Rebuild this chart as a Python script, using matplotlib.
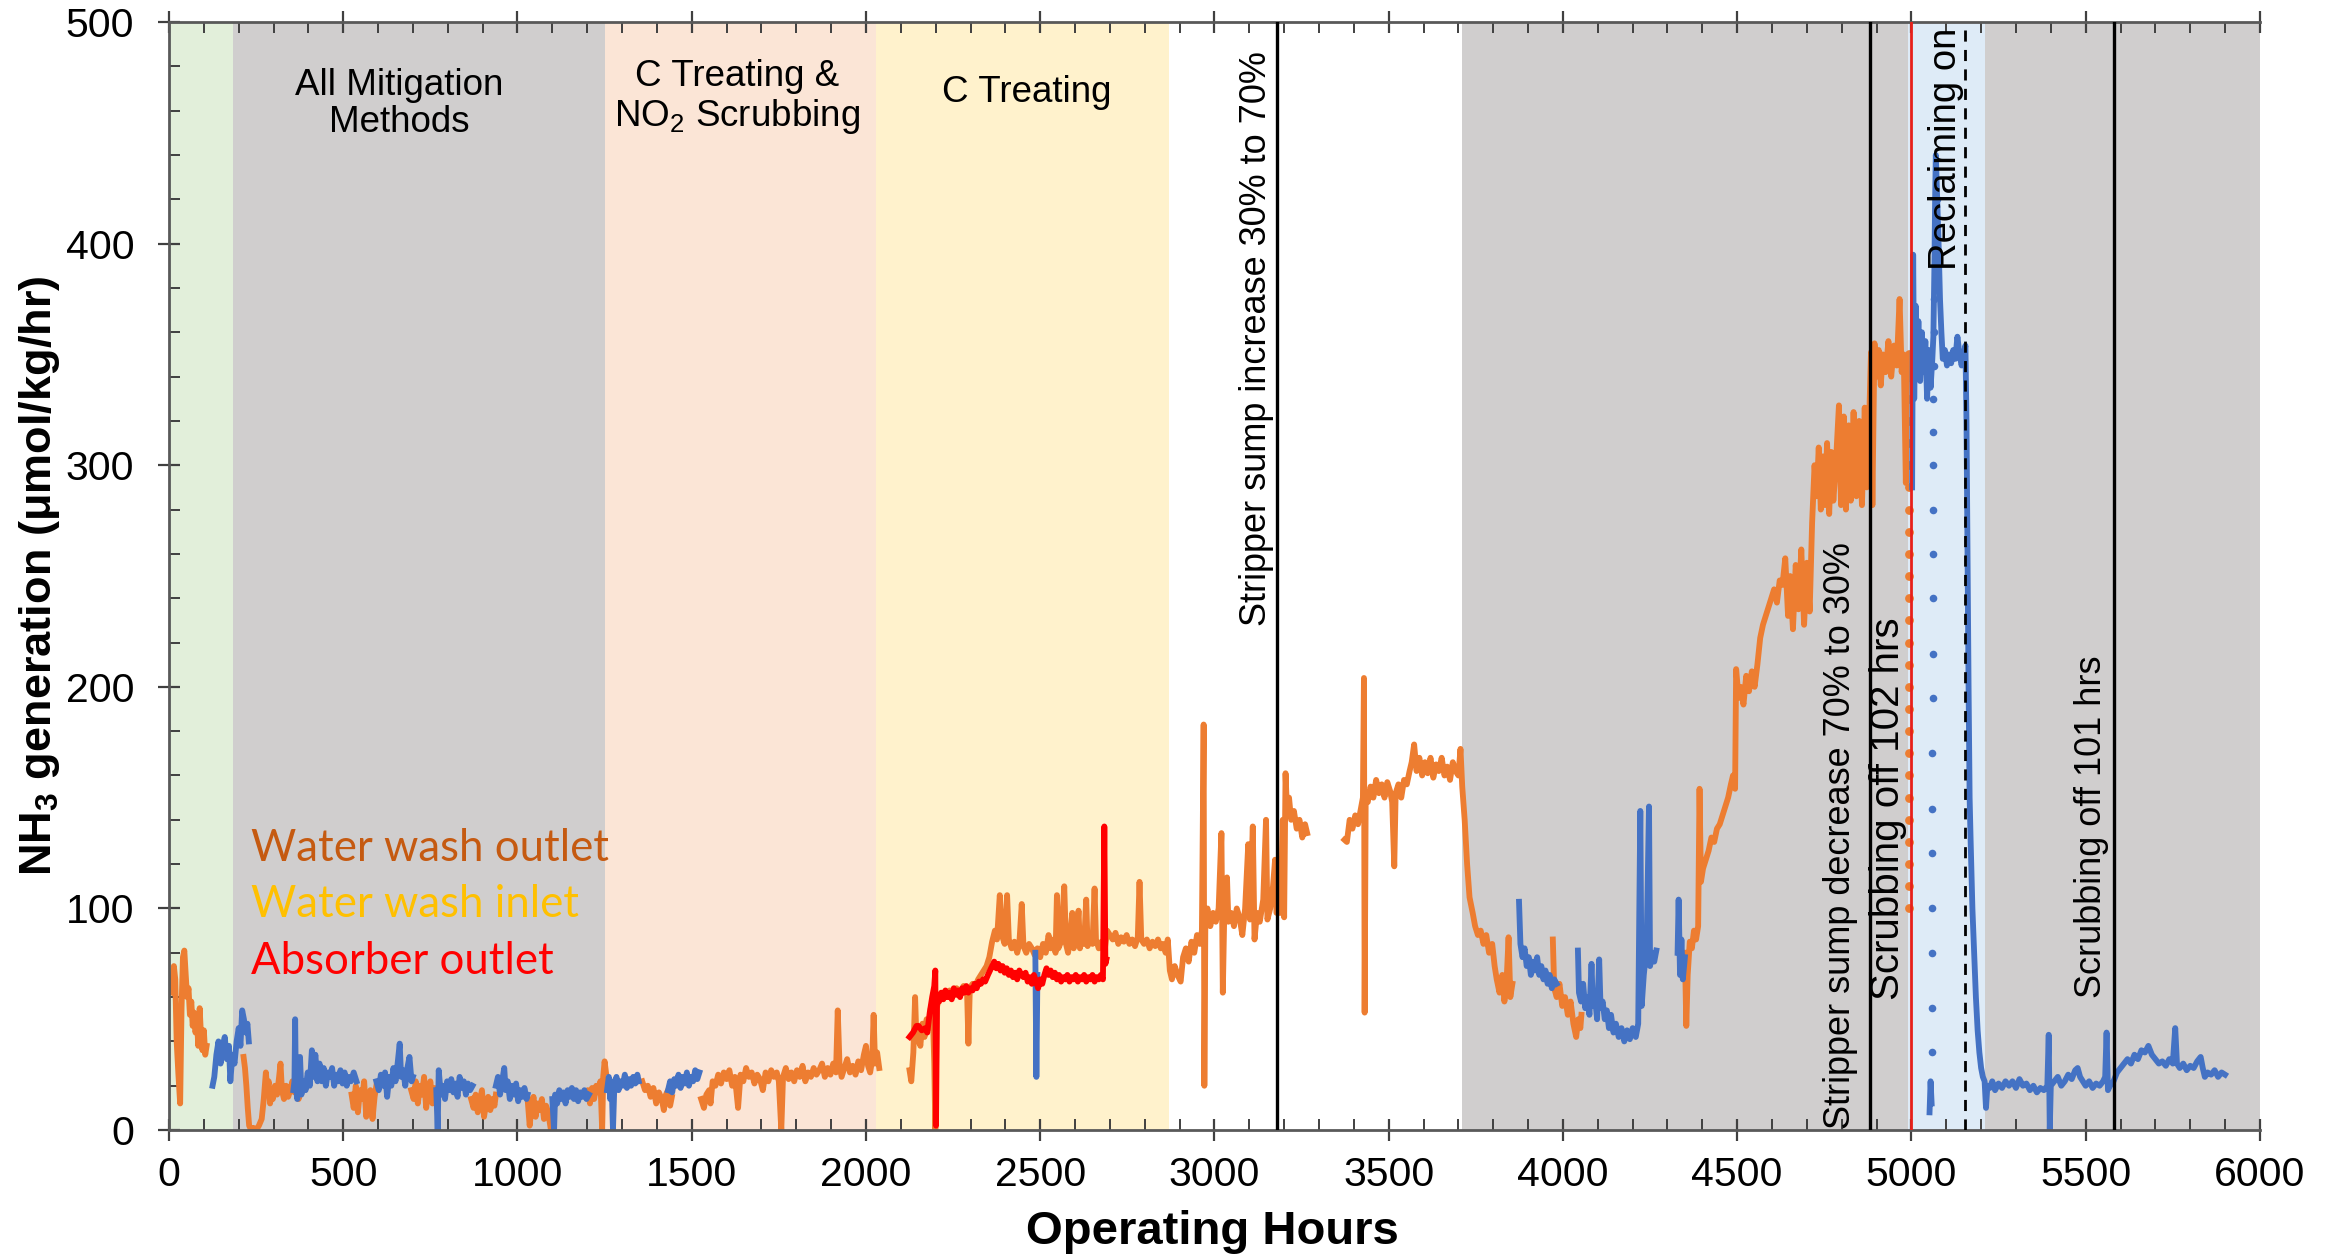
import numpy as np
import matplotlib
matplotlib.use('Agg')
import matplotlib.pyplot as plt
from matplotlib.ticker import MultipleLocator

# ---------------- phases (background bands) ----------------
phase_start = [0, 185, 1250, 2030, 2870, 3710, 4990, 5210]
phase_end = [185, 1250, 2030, 2870, 3710, 4990, 5210, 6000]
phase_color = ['#e2efda', '#d0cece', '#fbe5d6', '#fff2cc', '#ffffff', '#d0cece', '#deebf7', '#d0cece']

phase_labels = ['All Mitigation\nMethods', 'C Treating &\nNO$_2$ Scrubbing', 'C Treating']
phase_label_x = [660, 1630, 2460]
phase_label_y = [463, 466, 468]

# ---------------- events (vertical lines) ----------------
event_hours = [3180, 4880, 5000, 5155, 5580]
event_texts = ['Stripper sump increase 30% to 70%', 'Stripper sump decrease 70% to 30%',
               'Scrubbing off 102 hrs', 'Reclaiming on', 'Scrubbing off 101 hrs']
event_text_x = [3121, 4797, 4934, 5100, 5518]
event_text_y = [357, 133, 145, 443, 137]
event_text_size = [26, 26, 29, 27.5, 26]

# ---------------- water wash outlet (orange) ----------------
outlet_a = [(8, 62), (14, 74), (18, 68), (22, 40), (27, 25), (32, 12), (36, 55), (40, 78), (44, 81),
            (48, 70), (52, 60), (56, 64), (60, 52), (64, 58), (68, 47), (72, 53), (76, 44), (80, 50),
            (84, 38), (88, 55), (92, 42), (96, 36), (100, 45), (104, 34), (108, 38)]
outlet_b = [(214, 33), (218, 28), (222, 20), (226, 10), (230, 2), (236, 0), (242, 1), (250, 0), (258, 2),
            (266, 5), (272, 14), (278, 26), (282, 18), (286, 22), (290, 12), (294, 17), (298, 14), (304, 20),
            (310, 16), (316, 24), (320, 30), (324, 18), (330, 14), (336, 20), (342, 15), (348, 18), (354, 22),
            (360, 17), (366, 20), (372, 14), (378, 18), (384, 22), (390, 19)]
outlet_c = [(524, 16), (530, 10), (536, 20), (542, 8), (548, 18), (554, 14), (560, 22), (566, 6), (572, 12),
            (578, 18), (584, 5), (590, 15), (595, 20)]
outlet_d = [(695, 18), (702, 14), (708, 22), (714, 12), (720, 20), (726, 16), (732, 24), (738, 10), (744, 18),
            (750, 22), (756, 12), (762, 19), (767, 15)]
outlet_e = [(867, 14), (874, 10), (880, 16), (886, 8), (892, 13), (898, 18), (904, 6), (910, 12), (916, 15),
            (922, 9), (928, 14), (934, 11), (938, 16)]
outlet_f = [(1029, 14), (1035, 2), (1040, 10), (1046, 15), (1052, 6), (1058, 12), (1064, 9), (1070, 14),
            (1076, 5), (1082, 11), (1088, 8), (1095, 1)]
outlet_g = [(1195, 16), (1202, 18), (1208, 12), (1214, 19), (1220, 14), (1226, 20), (1232, 17), (1238, 22),
            (1243, 0), (1246, 24), (1250, 31), (1254, 26)]
outlet_h = [(1358, 22), (1366, 18), (1374, 20), (1382, 15), (1390, 19), (1398, 12), (1406, 17), (1414, 14),
            (1420, 9), (1426, 16), (1432, 18), (1438, 11), (1443, 15)]
outlet_i = [(1527, 14), (1535, 10), (1542, 16), (1550, 18), (1554, 12), (1560, 22), (1568, 20), (1576, 25),
            (1584, 21), (1592, 26), (1600, 23), (1608, 27), (1616, 20), (1624, 24), (1633, 10), (1640, 25),
            (1648, 22), (1656, 28), (1664, 24), (1672, 26), (1680, 21), (1688, 25), (1696, 23), (1704, 18),
            (1712, 26), (1720, 22), (1728, 27), (1736, 24), (1744, 26), (1750, 22), (1757, 0), (1762, 24),
            (1770, 28), (1778, 23), (1786, 26), (1794, 22), (1802, 27), (1810, 24), (1818, 29), (1826, 22),
            (1834, 26), (1842, 24), (1850, 28), (1858, 25), (1866, 27), (1874, 30), (1882, 24), (1890, 28),
            (1898, 25), (1906, 30), (1914, 26), (1919, 54), (1924, 30), (1930, 24), (1938, 28), (1946, 32),
            (1954, 26), (1962, 29), (1970, 25), (1978, 31), (1986, 27), (1994, 34), (2000, 38), (2006, 29),
            (2012, 26), (2018, 32), (2022, 52), (2026, 30), (2032, 35), (2038, 28)]
outlet_j = [(2125, 27), (2130, 22), (2136, 35), (2141, 60), (2145, 40), (2150, 45), (2156, 38), (2162, 48),
            (2168, 42), (2174, 50), (2180, 46), (2186, 55), (2192, 52), (2196, 30), (2199, 0), (2203, 55),
            (2210, 60), (2220, 62), (2230, 60), (2240, 63), (2250, 61), (2260, 64), (2270, 62), (2280, 65),
            (2290, 63), (2294, 39), (2298, 64), (2306, 66), (2314, 65), (2322, 68), (2330, 70), (2338, 72),
            (2346, 74), (2354, 78), (2362, 85), (2370, 90), (2376, 86), (2384, 106), (2390, 88), (2398, 84),
            (2405, 106), (2410, 86), (2418, 82), (2426, 85), (2434, 80), (2440, 84), (2447, 102), (2452, 83),
            (2460, 80), (2468, 84), (2476, 82), (2484, 79), (2492, 82), (2500, 78), (2508, 84), (2516, 80),
            (2524, 88), (2530, 82), (2538, 86), (2544, 80), (2548, 106), (2552, 82), (2560, 85), (2569, 110),
            (2574, 84), (2580, 80), (2586, 88), (2592, 98), (2596, 82), (2604, 86), (2610, 99), (2614, 82),
            (2620, 88), (2626, 84), (2632, 104), (2636, 83), (2644, 87), (2650, 84), (2656, 109), (2660, 86),
            (2668, 82), (2676, 85), (2684, 80), (2692, 90), (2700, 88), (2708, 86), (2716, 89), (2724, 84),
            (2732, 87), (2740, 85), (2748, 88), (2756, 84), (2764, 86), (2772, 83), (2780, 87), (2785, 112),
            (2790, 86), (2798, 84), (2806, 86), (2814, 82), (2822, 85), (2830, 83), (2838, 86), (2846, 82),
            (2852, 84), (2860, 80), (2866, 86), (2872, 72), (2878, 68), (2886, 74), (2894, 70), (2903, 67),
            (2910, 78), (2918, 82), (2926, 76), (2934, 85), (2942, 80), (2950, 88), (2958, 84), (2964, 90),
            (2969, 183), (2971, 20), (2974, 96), (2980, 100), (2988, 92), (2996, 98), (3004, 94), (3012, 100),
            (3020, 134), (3024, 62), (3028, 96), (3036, 114), (3040, 94), (3048, 98), (3056, 92), (3064, 100),
            (3072, 96), (3080, 88), (3088, 100), (3097, 129), (3102, 95), (3110, 137), (3115, 86), (3122, 98),
            (3130, 94), (3140, 104), (3148, 140), (3152, 95), (3160, 100), (3168, 110), (3174, 122), (3178, 98),
            (3190, 98), (3196, 140), (3200, 96), (3204, 161), (3208, 145), (3214, 150), (3220, 140), (3228, 144),
            (3236, 136), (3244, 140), (3252, 132), (3260, 138), (3266, 134)]
outlet_k = [(3373, 131), (3380, 130), (3388, 140), (3396, 136), (3404, 142), (3412, 138), (3420, 145),
            (3426, 150), (3429, 204), (3431, 53), (3434, 150), (3440, 148), (3448, 155), (3456, 150), (3464, 158),
            (3472, 152), (3480, 156), (3488, 150), (3496, 157), (3504, 153), (3510, 148), (3516, 119), (3520, 152),
            (3528, 156), (3536, 150), (3544, 158), (3552, 156), (3560, 162), (3566, 166), (3573, 174), (3580, 162),
            (3588, 168), (3596, 160), (3604, 166), (3612, 161), (3620, 168), (3628, 159), (3636, 165), (3644, 162),
            (3652, 168), (3660, 160), (3668, 164), (3676, 158), (3684, 166), (3692, 162), (3700, 160), (3706, 172),
            (3711, 155), (3718, 140), (3725, 120), (3732, 105), (3741, 98), (3748, 92), (3756, 88), (3764, 90),
            (3772, 84), (3780, 88), (3788, 80), (3797, 84), (3804, 74), (3810, 68), (3818, 62), (3826, 70),
            (3832, 58), (3838, 66), (3844, 87), (3849, 60), (3855, 66)]
outlet_l = [(3971, 86), (3975, 64), (3982, 60), (3990, 66), (3998, 56), (4006, 60), (4014, 52), (4022, 58),
            (4030, 48), (4038, 42), (4044, 50), (4050, 46), (4053, 52)]
outlet_m = [(4350, 80), (4354, 47), (4358, 70), (4364, 85), (4370, 82), (4376, 90), (4382, 86), (4388, 92),
            (4392, 154), (4396, 112), (4402, 118), (4410, 122), (4418, 126), (4426, 132), (4434, 130), (4442, 136),
            (4450, 138), (4458, 142), (4466, 146), (4474, 150), (4482, 156), (4488, 160), (4494, 154), (4497, 208),
            (4504, 195), (4510, 200), (4518, 192), (4526, 205), (4534, 198), (4542, 207), (4550, 200), (4558, 210),
            (4566, 222), (4574, 228), (4582, 232), (4590, 236), (4598, 240), (4606, 244), (4614, 238), (4622, 248),
            (4630, 246), (4638, 258), (4646, 232), (4652, 250), (4660, 226), (4668, 255), (4676, 235), (4684, 262),
            (4692, 228), (4700, 256), (4708, 234), (4715, 274), (4722, 300), (4728, 286), (4734, 308), (4740, 280),
            (4746, 304), (4752, 282), (4758, 310), (4764, 278), (4770, 306), (4776, 284), (4783, 300), (4792, 327),
            (4798, 282), (4806, 322), (4812, 280), (4820, 318), (4826, 284), (4834, 324), (4842, 286), (4850, 320),
            (4858, 282), (4866, 326), (4872, 290), (4879, 322), (4884, 351), (4888, 282), (4894, 355), (4900, 340),
            (4906, 352), (4912, 336), (4918, 350), (4926, 342), (4934, 356), (4942, 340), (4950, 354), (4958, 345),
            (4966, 375), (4972, 342), (4978, 350), (4984, 292), (4988, 348), (4994, 340)]
outlet_column_hours = [4994] * 26
outlet_column_vals = [350, 340, 330, 320, 310, 300, 290, 280, 270, 260, 250, 240, 230, 220, 210, 200,
                      190, 180, 170, 160, 150, 140, 130, 120, 110, 100]

# ---------------- water wash inlet (blue) ----------------
inlet_a = [(125, 20), (130, 24), (136, 34), (142, 40), (148, 30), (154, 38), (160, 42), (166, 32), (172, 38),
           (176, 22), (182, 34), (188, 30), (194, 40), (200, 46), (205, 38), (210, 54), (215, 50), (220, 44),
           (225, 48), (229, 40)]
inlet_b = [(357, 18), (360, 22), (362, 50), (364, 20), (368, 14), (372, 26), (376, 33), (380, 16), (386, 22),
           (392, 18), (398, 26), (404, 20), (410, 36), (414, 24), (420, 34), (426, 22), (432, 30), (438, 22),
           (444, 28), (450, 20), (456, 26), (462, 24), (468, 28), (474, 20), (480, 25), (486, 22), (492, 27),
           (498, 21), (504, 26), (510, 20), (516, 24), (522, 22), (530, 26), (538, 22)]
inlet_c = [(595, 22), (602, 18), (608, 25), (614, 20), (620, 26), (626, 15), (632, 24), (638, 20), (644, 28),
           (650, 22), (656, 30), (662, 39), (666, 24), (672, 27), (678, 20), (684, 28), (690, 33), (696, 22),
           (700, 24)]
inlet_d = [(767, 18), (771, 0), (774, 27), (780, 16), (786, 20), (792, 14), (798, 22), (804, 18), (810, 23),
           (816, 17), (822, 21), (828, 15), (834, 24), (840, 19), (846, 22), (852, 16), (858, 21), (864, 18),
           (871, 20)]
inlet_e = [(938, 20), (944, 24), (950, 16), (956, 22), (962, 28), (966, 18), (972, 22), (978, 14), (984, 20),
           (990, 16), (996, 21), (1002, 13), (1008, 18), (1014, 15), (1020, 19), (1026, 14), (1029, 16)]
inlet_f = [(1100, 14), (1105, 0), (1108, 16), (1114, 12), (1120, 18), (1126, 14), (1132, 17), (1138, 12),
           (1144, 18), (1150, 15), (1156, 19), (1162, 14), (1168, 18), (1174, 13), (1180, 17), (1186, 15),
           (1192, 18), (1198, 14), (1205, 16)]
inlet_g = [(1257, 18), (1262, 24), (1266, 14), (1270, 22), (1274, 0), (1278, 20), (1284, 24), (1290, 18),
           (1296, 22), (1302, 20), (1308, 25), (1314, 19), (1320, 23), (1326, 20), (1332, 24), (1338, 21),
           (1344, 25), (1348, 22)]
inlet_h = [(1432, 18), (1438, 22), (1444, 17), (1450, 23), (1456, 20), (1462, 25), (1468, 19), (1474, 24),
           (1480, 21), (1486, 26), (1492, 20), (1498, 24), (1504, 22), (1510, 27), (1516, 23), (1522, 26)]
inlet_i = [(2486, 80), (2489, 24), (2492, 70)]
inlet_j = [(3874, 103), (3878, 84), (3884, 78), (3890, 82), (3896, 74), (3902, 78), (3908, 70), (3914, 76),
           (3920, 72), (3926, 78), (3932, 70), (3938, 74), (3944, 68), (3950, 72), (3956, 66), (3962, 70),
           (3968, 64), (3975, 68), (3982, 66)]
inlet_k = [(4043, 81), (4046, 62), (4052, 58), (4058, 66), (4064, 55), (4070, 60), (4076, 52), (4082, 75),
           (4086, 56), (4092, 60), (4098, 50), (4104, 77), (4108, 55), (4114, 58), (4120, 50), (4126, 54),
           (4132, 46), (4138, 52), (4145, 44), (4152, 48), (4160, 42), (4168, 46), (4176, 40), (4184, 45),
           (4192, 41), (4200, 46), (4209, 42), (4216, 48), (4222, 144), (4226, 56), (4232, 70), (4240, 82),
           (4247, 146), (4250, 74), (4256, 80), (4262, 76), (4268, 81)]
inlet_l = [(4329, 80), (4332, 104), (4336, 70), (4340, 86), (4344, 68), (4350, 78)]
inlet_m = [(5002, 290), (5005, 395), (5008, 330), (5012, 372), (5016, 345), (5020, 365), (5025, 338), (5030, 360),
           (5035, 342), (5040, 356), (5045, 330), (5050, 352), (5055, 335), (5060, 348), (5063, 358), (5066, 390),
           (5068, 420), (5070, 440), (5074, 420), (5078, 400), (5082, 375), (5086, 360), (5090, 348), (5096, 352),
           (5102, 345), (5108, 350), (5114, 346), (5120, 352), (5126, 348), (5132, 358), (5138, 350), (5144, 345),
           (5150, 350), (5155, 354), (5158, 320), (5161, 260), (5164, 200), (5167, 150), (5170, 130), (5175, 100),
           (5180, 80), (5185, 60), (5190, 45), (5195, 35), (5200, 28), (5205, 24), (5210, 22), (5214, 10),
           (5218, 20), (5225, 19), (5232, 22), (5240, 18), (5250, 21), (5260, 19), (5270, 22), (5280, 20),
           (5290, 22), (5300, 19), (5310, 23), (5320, 20), (5330, 21), (5340, 18), (5350, 20), (5360, 17),
           (5370, 19), (5380, 18), (5390, 20), (5394, 43), (5397, 0), (5400, 20), (5410, 22), (5420, 24),
           (5430, 20), (5440, 22), (5450, 25), (5460, 23), (5470, 27), (5477, 28), (5484, 24), (5492, 22),
           (5500, 20), (5510, 22), (5520, 19), (5530, 21), (5540, 20), (5550, 22), (5556, 24), (5560, 44),
           (5564, 18), (5570, 20), (5580, 22), (5590, 26), (5600, 28), (5610, 30), (5620, 32), (5630, 30),
           (5640, 34), (5650, 32), (5660, 36), (5670, 35), (5680, 38), (5690, 34), (5700, 32), (5710, 30),
           (5720, 31), (5730, 29), (5740, 32), (5750, 30), (5757, 46), (5762, 30), (5770, 28), (5780, 30),
           (5790, 27), (5800, 29), (5810, 28), (5820, 31), (5830, 33), (5836, 28), (5842, 24), (5850, 26),
           (5860, 25), (5870, 27), (5880, 24), (5890, 26), (5900, 25)]
inlet_n = [(5052, 8), (5055, 22), (5058, 12)]
inlet_dot_hours = [5058, 5058, 5059, 5059, 5060, 5060, 5060, 5061, 5061, 5061, 5062, 5062, 5062, 5063, 5063,
                   5064, 5064, 5065, 5072, 5074]
inlet_dot_vals = [35, 55, 80, 100, 125, 145, 170, 195, 215, 240, 260, 280, 300, 315, 330, 345, 360, 375, 395, 420]

# ---------------- absorber outlet (red) ----------------
absorber_a = [(2125, 42), (2135, 44), (2145, 47), (2151, 47), (2160, 45), (2170, 46), (2176, 44), (2183, 53),
              (2190, 60), (2196, 65), (2199, 72), (2201, 2), (2204, 60), (2210, 58), (2216, 62), (2222, 59),
              (2228, 63), (2234, 60), (2240, 62), (2246, 59), (2252, 64), (2258, 61), (2264, 63), (2270, 60),
              (2276, 64), (2282, 62), (2288, 65), (2294, 62), (2300, 64), (2306, 63), (2312, 66), (2318, 64),
              (2324, 67), (2330, 66), (2336, 68), (2342, 67), (2350, 70), (2356, 72), (2362, 74), (2368, 76),
              (2374, 73), (2380, 75), (2386, 72), (2392, 74), (2398, 71), (2404, 73), (2410, 70), (2416, 72),
              (2422, 69), (2428, 71), (2434, 68), (2440, 72), (2446, 70), (2452, 69), (2458, 71), (2464, 67),
              (2470, 69), (2476, 66), (2482, 70), (2488, 67), (2494, 64), (2500, 68), (2506, 66), (2512, 70),
              (2518, 73), (2524, 70), (2530, 72), (2536, 69), (2542, 71), (2548, 68), (2554, 70), (2560, 67),
              (2566, 69), (2572, 68), (2578, 70), (2584, 67), (2590, 69), (2596, 68), (2602, 70), (2608, 67),
              (2614, 69), (2620, 68), (2626, 70), (2632, 67), (2638, 69), (2644, 68), (2650, 70), (2656, 67),
              (2662, 69), (2668, 68), (2674, 70), (2680, 68), (2684, 137), (2687, 75), (2690, 77)]

legend_texts = ['Water wash outlet', 'Water wash inlet', 'Absorber outlet']
legend_colors = ['#c55a11', '#ffc000', '#ff0000']
legend_y = [127, 102, 76]

x_ticks = [0, 500, 1000, 1500, 2000, 2500, 3000, 3500, 4000, 4500, 5000, 5500, 6000]
y_ticks = [0, 100, 200, 300, 400, 500]


def build(*segments):
    xs, ys = [], []
    for seg in segments:
        for h, v in seg:
            xs.append(h)
            ys.append(v)
        xs.append(np.nan)
        ys.append(np.nan)
    return np.array(xs, dtype=float), np.array(ys, dtype=float)


plt.rcParams['mathtext.fontset'] = 'custom'
plt.rcParams['mathtext.rm'] = 'Liberation Sans'
plt.rcParams['mathtext.bf'] = 'Liberation Sans:bold'

ARIAL = ['Liberation Sans', 'DejaVu Sans']

fig = plt.figure(figsize=(23.31, 12.58), dpi=100)
ax = fig.add_axes([0.0725, 0.1017, 0.8970, 0.8808])
ax.set_xlim(0, 6000)
ax.set_ylim(0, 500)

for x0, x1, c in zip(phase_start, phase_end, phase_color):
    ax.axvspan(x0, x1, color=c, lw=0, zorder=0)

ORANGE = '#ed7d31'
BLUE = '#4472c4'
RED = '#ff0000'
LW = 4.2

ox, oy = build(outlet_a, outlet_b, outlet_c, outlet_d, outlet_e, outlet_f, outlet_g, outlet_h,
               outlet_i, outlet_j, outlet_k, outlet_l, outlet_m)
bx, by = build(inlet_a, inlet_b, inlet_c, inlet_d, inlet_e, inlet_f, inlet_g, inlet_h,
               inlet_i, inlet_j, inlet_k, inlet_l, inlet_m, inlet_n)
rx, ry = build(absorber_a)

ax.plot(ox, oy, color=ORANGE, lw=LW, zorder=2, solid_joinstyle='round')
ax.scatter(outlet_column_hours, outlet_column_vals, s=40, color=ORANGE, zorder=2, lw=0)
ax.plot(bx, by, color=BLUE, lw=LW, zorder=2.1, solid_joinstyle='round')
ax.plot(rx, ry, color=RED, lw=LW, zorder=2.2, solid_joinstyle='round')
ax.scatter(inlet_dot_hours, inlet_dot_vals, s=30, color=BLUE, zorder=2.1, lw=0)

# event lines
styles = [dict(color='black', lw=2.4, ls='-'), dict(color='black', lw=2.4, ls='-'),
          dict(color='#e8201a', lw=2.0, ls='-'), dict(color='black', lw=2.0, ls=(0, (4, 3))),
          dict(color='black', lw=2.4, ls='-')]
for h, st in zip(event_hours, styles):
    ax.axvline(h, zorder=3, **st)

for t, x, y, s in zip(event_texts, event_text_x, event_text_y, event_text_size):
    ax.text(x, y, t, rotation=90, ha='center', va='center', fontsize=s,
            family=ARIAL, zorder=4)

for t, x, y in zip(phase_labels, phase_label_x, phase_label_y):
    ax.text(x, y, t, ha='center', va='center', fontsize=26.5, family=ARIAL,
            linespacing=1.1, zorder=4)

for t, c, y in zip(legend_texts, legend_colors, legend_y):
    ax.text(235, y, t, ha='left', va='center', fontsize=31.5, family=['Lato', 'DejaVu Sans'],
            color=c, zorder=4)

# axes styling
ax.set_xticks(x_ticks)
ax.set_yticks(y_ticks)
ax.xaxis.set_minor_locator(MultipleLocator(100))
ax.yaxis.set_minor_locator(MultipleLocator(20))
ax.tick_params(which='major', direction='inout', length=16, width=1.6, color='#404040',
               top=True, right=False, labelsize=29.5)
ax.tick_params(which='minor', direction='in', length=8, width=1.4, color='#404040',
               top=True, right=False)
ax.tick_params(axis='x', which='major', pad=11)
ax.tick_params(axis='y', which='major', pad=17)
for lab in ax.get_xticklabels() + ax.get_yticklabels():
    lab.set_family(ARIAL)

for side in ['left', 'bottom', 'top']:
    ax.spines[side].set_color('#595959')
    ax.spines[side].set_linewidth(2)
ax.spines['right'].set_visible(False)

fig.text(0.52, 0.021, 'Operating Hours', ha='center', va='center', fontsize=34,
         fontweight='bold', family=ARIAL)
fig.text(0.017, 0.542, r'NH$_\mathbf{3}$ generation (μmol/kg/hr)', rotation=90, ha='center',
         va='center', fontsize=32.5, fontweight='bold', family=ARIAL)

fig.savefig('out.png', dpi=100)
